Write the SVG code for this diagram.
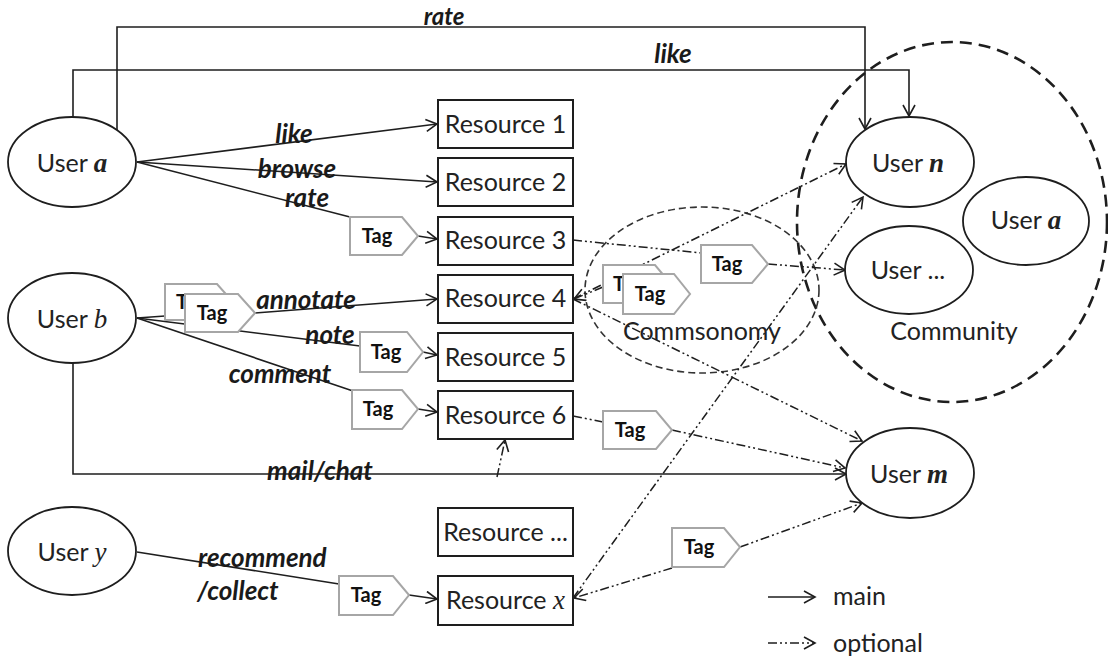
<svg xmlns="http://www.w3.org/2000/svg" width="1108" height="659" viewBox="0 0 1108 659">
  <defs>
    <style>
      .node { fill: #fff; stroke: #1e1e1e; stroke-width: 1.8; }
      .box { fill: #fff; stroke: #1e1e1e; stroke-width: 2; }
      .tag { fill: #fff; stroke: #a6a6a6; stroke-width: 2; }
      .main { fill: none; stroke: #1e1e1e; stroke-width: 1.6; marker-end: url(#arr); }
      .main-plain { fill: none; stroke: #1e1e1e; stroke-width: 1.6; }
      .opt { fill: none; stroke: #1e1e1e; stroke-width: 1.5; stroke-dasharray: 9 3 2 3 2 3; }
      .opt-arr { fill: none; stroke: #1e1e1e; stroke-width: 1.5; stroke-dasharray: 9 3 2 3 2 3; marker-end: url(#arr); }
      .group-big { fill: none; stroke: #1e1e1e; stroke-width: 2.6; stroke-dasharray: 12 7; }
      .group-small { fill: none; stroke: #333; stroke-width: 1.6; stroke-dasharray: 7 4; }
      .lbl { font-family: Lato, "Open Sans", sans-serif; font-size: 25px; fill: #222; }
      .mid { text-anchor: middle; }
      .var { font-family: "Liberation Serif", "Times New Roman", serif; font-style: italic; font-weight: bold; font-size: 27px; }
      .var-i { font-family: "Liberation Serif", "Times New Roman", serif; font-style: italic; font-size: 27px; }
      .act { font-family: Lato, "Open Sans", sans-serif; font-size: 26px; font-weight: bold; font-style: italic; fill: #1a1a1a; }
      .tagtxt { font-family: Lato, "Open Sans", sans-serif; font-size: 20px; font-weight: bold; fill: #111; text-anchor: middle; }
      .tagtxt-l { font-family: Lato, "Open Sans", sans-serif; font-size: 20px; font-weight: bold; fill: #111; }
    </style>
    <marker id="arr" viewBox="0 0 14 14" refX="12.5" refY="7" markerWidth="14" markerHeight="14" markerUnits="userSpaceOnUse" orient="auto">
      <path d="M1.5,1 L12.5,7 L1.5,13" fill="none" stroke="#1e1e1e" stroke-width="1.6" stroke-dasharray="none"/>
    </marker>
  </defs>

  <rect width="1108" height="659" fill="#fff"/>

  <!-- grouping outlines -->
  <g id="community">
    <ellipse class="group-big" cx="952" cy="222" rx="155" ry="180"/>
    <text class="lbl mid" x="954" y="340">Community</text>
  </g>
  <g id="commsonomy">
    <ellipse class="group-small" cx="702" cy="290" rx="117" ry="83"/>
  </g>

  <!-- connectors -->
  <g id="connectors">
    <!-- solid: main actions -->
    <path class="main" d="M117,130 V27 H865 V129"/>
    <path class="main" d="M73,117 V70 H909 V116"/>
    <path class="main" d="M137,162 L437,124"/>
    <path class="main" d="M137,162 L437,182"/>
    <path class="main-plain" d="M137,162 L350,217"/>
    <path class="main" d="M418,236 L437,239"/>
    <path class="main-plain" d="M137,318 L165,316"/>
    <path class="main" d="M255,313 L437,299"/>
    <path class="main-plain" d="M137,318 L360,346"/>
    <path class="main" d="M423,352 L437,355"/>
    <path class="main-plain" d="M137,318 L353,391"/>
    <path class="main" d="M418,409 L437,412"/>
    <path class="main" d="M73,362 V474 H846"/>
    <path class="main-plain" d="M137,552 L339,584"/>
    <path class="main" d="M409,595 L437,599"/>

    <!-- dash-dot: optional propagation -->
    <path class="opt" d="M573,240 L701,253"/>
    <path class="opt-arr" d="M768,264 L845,270"/>
    <path class="opt-arr" d="M603,287 L574,299"/>
    <path class="opt-arr" d="M573,299 L846,164"/>
    <path class="opt-arr" d="M573,299 L862,441"/>
    <path class="opt" d="M573,416 L603,422"/>
    <path class="opt-arr" d="M672,430 L845,468"/>
    <path class="opt-arr" d="M497,477 L505,440"/>
    <path class="opt-arr" d="M672,568 L574,598"/>
    <path class="opt-arr" d="M573,598 L863,197"/>
    <path class="opt-arr" d="M740,547 L862,503"/>
  </g>

  <!-- users -->
  <g id="user-a">
    <ellipse class="node" cx="72" cy="162" rx="64" ry="45"/>
    <text class="lbl mid" x="72" y="172">User <tspan class="var">a</tspan></text>
  </g>
  <g id="user-b">
    <ellipse class="node" cx="72" cy="318" rx="64" ry="45"/>
    <text class="lbl mid" x="72" y="328">User <tspan class="var-i">b</tspan></text>
  </g>
  <g id="user-y">
    <ellipse class="node" cx="72" cy="551" rx="64" ry="44"/>
    <text class="lbl mid" x="72" y="561">User <tspan class="var-i">y</tspan></text>
  </g>
  <g id="user-n">
    <ellipse class="node" cx="910" cy="162" rx="64" ry="45"/>
    <text class="lbl mid" x="908" y="172">User <tspan class="var">n</tspan></text>
  </g>
  <g id="user-a-community">
    <ellipse class="node" cx="1026" cy="221" rx="63" ry="44"/>
    <text class="lbl mid" x="1026" y="229">User <tspan class="var">a</tspan></text>
  </g>
  <g id="user-etc">
    <ellipse class="node" cx="909" cy="270" rx="64" ry="44"/>
    <text class="lbl mid" x="908" y="279">User ...</text>
  </g>
  <g id="user-m">
    <ellipse class="node" cx="910" cy="473" rx="64" ry="45"/>
    <text class="lbl mid" x="909" y="483">User <tspan class="var">m</tspan></text>
  </g>

  <!-- resources -->
  <g id="resource-1">
    <rect class="box" x="438" y="100" width="135" height="48"/>
    <text class="lbl mid" x="505.5" y="133">Resource 1</text>
  </g>
  <g id="resource-2">
    <rect class="box" x="438" y="158" width="135" height="48"/>
    <text class="lbl mid" x="505.5" y="191">Resource 2</text>
  </g>
  <g id="resource-3">
    <rect class="box" x="438" y="217" width="135" height="48"/>
    <text class="lbl mid" x="505.5" y="249">Resource 3</text>
  </g>
  <g id="resource-4">
    <rect class="box" x="438" y="275" width="135" height="48"/>
    <text class="lbl mid" x="505.5" y="307">Resource 4</text>
  </g>
  <g id="resource-5">
    <rect class="box" x="438" y="333" width="135" height="48"/>
    <text class="lbl mid" x="505.5" y="366">Resource 5</text>
  </g>
  <g id="resource-6">
    <rect class="box" x="438" y="391" width="135" height="48"/>
    <text class="lbl mid" x="505.5" y="424">Resource 6</text>
  </g>
  <g id="resource-etc">
    <rect class="box" x="438" y="508" width="135" height="48"/>
    <text class="lbl mid" x="505.5" y="541">Resource ...</text>
  </g>
  <g id="resource-x">
    <rect class="box" x="438" y="576" width="135" height="49"/>
    <text class="lbl mid" x="505.5" y="609">Resource <tspan class="var-i">x</tspan></text>
  </g>

  <!-- tags -->
  <g id="tag-r3">
    <polygon class="tag" points="350,217 402,217 418,236 402,255 350,255"/>
    <text class="tagtxt" x="377" y="243">Tag</text>
  </g>
  <!-- stacked pair next to User b: only the first letter of the rear tag stays visible -->
  <g id="tag-b-back">
    <polygon class="tag" points="165,284 217,284 233,302 217,320 165,320"/>
    <text class="tagtxt-l" x="176" y="309">T</text>
  </g>
  <g id="tag-b-front">
    <polygon class="tag" points="185,294 238,294 255,313 238,332 185,332"/>
    <text class="tagtxt" x="212" y="320">Tag</text>
  </g>
  <g id="tag-r5">
    <polygon class="tag" points="360,332 407,332 423,352 407,372 360,372"/>
    <text class="tagtxt" x="386" y="359">Tag</text>
  </g>
  <g id="tag-r6">
    <polygon class="tag" points="352,390 402,390 418,409 402,429 352,429"/>
    <text class="tagtxt" x="378" y="416">Tag</text>
  </g>
  <g id="tag-rx">
    <polygon class="tag" points="339,576 393,576 409,595 393,615 339,615"/>
    <text class="tagtxt" x="366" y="602">Tag</text>
  </g>
  <g id="tag-share">
    <polygon class="tag" points="701,245 752,245 768,264 752,283 701,283"/>
    <text class="tagtxt" x="727" y="271">Tag</text>
  </g>
  <!-- stacked pair inside the commsonomy outline -->
  <g id="tag-c-back">
    <polygon class="tag" points="603,265 655,265 671,284 655,303 603,303"/>
    <text class="tagtxt-l" x="613" y="291">T</text>
  </g>
  <g id="tag-c-front">
    <polygon class="tag" points="623,274 674,274 690,294 674,314 623,314"/>
    <text class="tagtxt" x="650" y="301">Tag</text>
  </g>
  <g id="tag-r6-out">
    <polygon class="tag" points="603,411 656,411 672,430 656,449 603,449"/>
    <text class="tagtxt" x="630" y="437">Tag</text>
  </g>
  <g id="tag-rx-out">
    <polygon class="tag" points="672,528 724,528 740,547 724,567 672,567"/>
    <text class="tagtxt" x="699" y="554">Tag</text>
  </g>

  <text class="lbl mid" x="702" y="340">Commsonomy</text>

  <!-- action labels -->
  <g id="labels">
    <text class="act mid" x="444" y="25" style="font-size:24px">rate</text>
    <text class="act mid" x="673" y="63">like</text>
    <text class="act mid" x="294" y="143">like</text>
    <text class="act mid" x="297" y="178">browse</text>
    <text class="act mid" x="307" y="207">rate</text>
    <text class="act mid" x="306" y="309">annotate</text>
    <text class="act mid" x="330" y="344">note</text>
    <text class="act mid" x="280" y="383">comment</text>
    <text class="act mid" x="320" y="480">mail/chat</text>
    <text class="act" x="198" y="567">recommend</text>
    <text class="act" x="197" y="600">/collect</text>
  </g>

  <!-- legend -->
  <g id="legend">
    <path class="main" d="M768,597 H815"/>
    <text class="lbl" x="833" y="605">main</text>
    <path class="opt-arr" d="M768,643 H815"/>
    <text class="lbl" x="833" y="652">optional</text>
  </g>
</svg>
